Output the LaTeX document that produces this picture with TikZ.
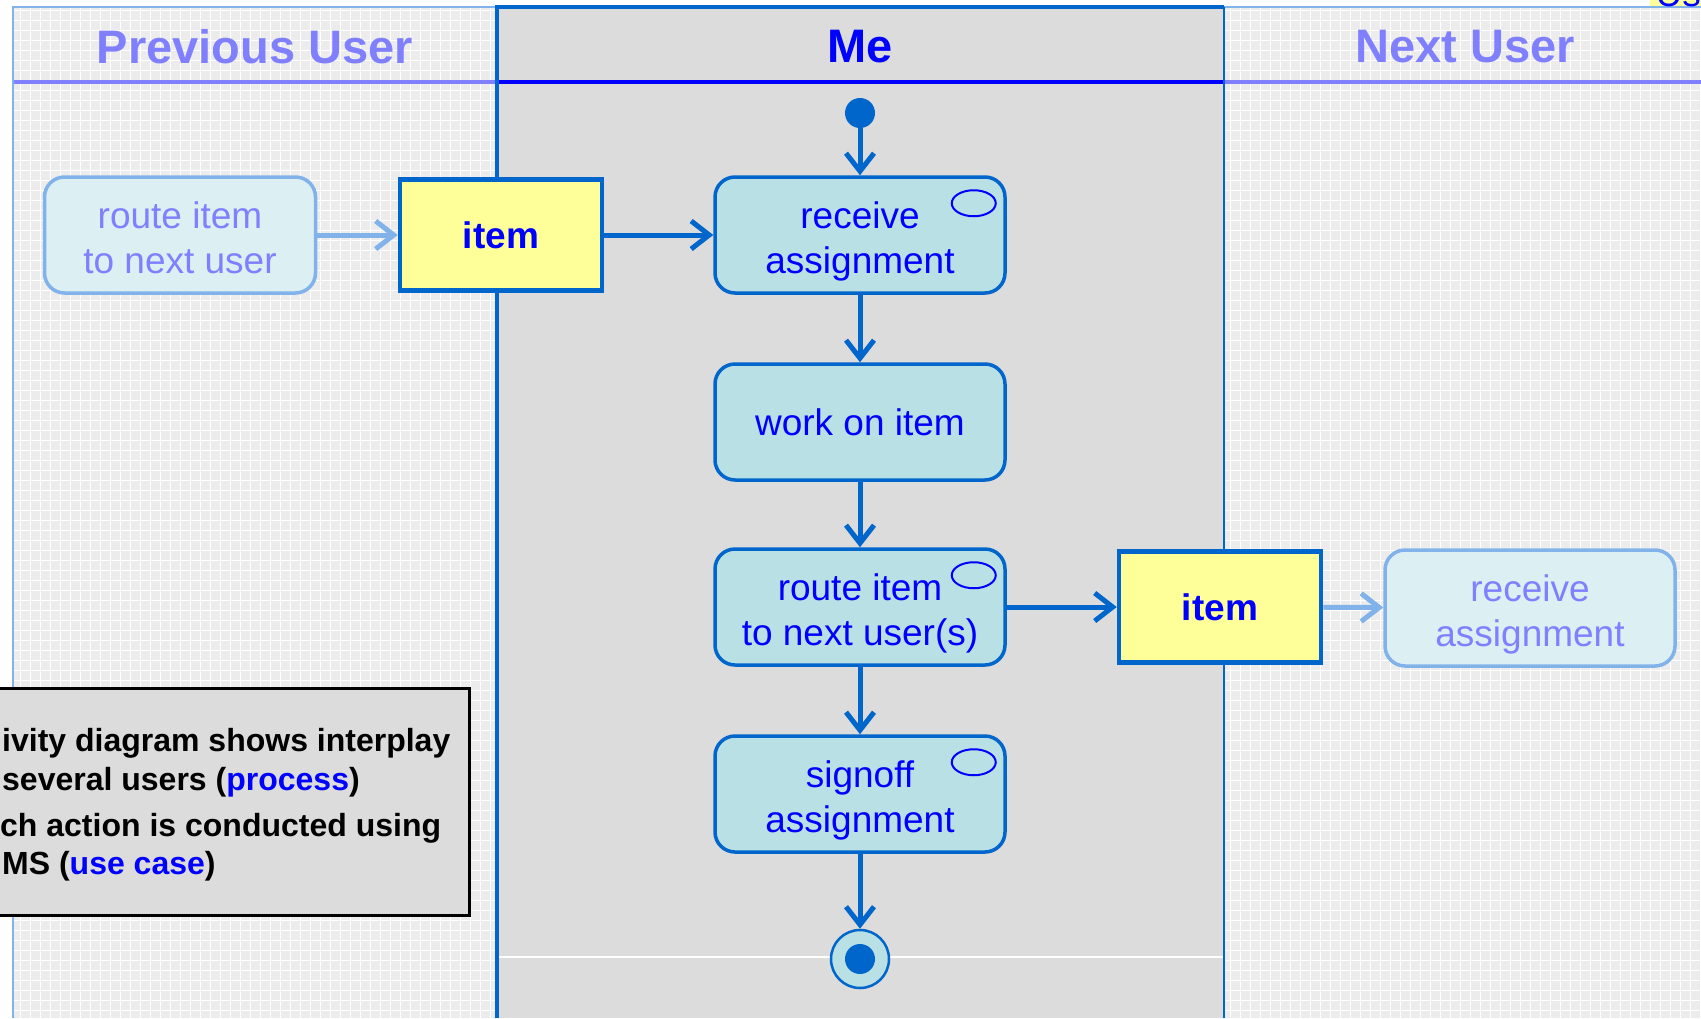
\documentclass[tikz,border=0pt]{standalone}
\usepackage{fontspec}
\setmainfont{Liberation Sans}
\usetikzlibrary{arrows.meta}

\definecolor{laneblue}{RGB}{0,102,204}
\definecolor{fadeblue}{RGB}{128,128,255}
\definecolor{fadeline}{RGB}{130,178,234}
\definecolor{actfill}{RGB}{185,224,229}
\definecolor{fadefill}{RGB}{220,239,242}
\definecolor{objfill}{RGB}{255,255,153}
\definecolor{megray}{RGB}{220,220,220}
\definecolor{outgray}{RGB}{236,236,236}

\tikzset{
	action/.style={draw=laneblue, fill=actfill, line width=3.5pt, rounded corners=20pt,
		minimum width=290pt, minimum height=116pt, align=center, text=blue,
		font=\fontsize{37}{45}\selectfont},
	twoline/.style={text height=79pt, text depth=3pt},
	ghost/.style={action, draw=fadeline, fill=fadefill, text=fadeblue},
	object/.style={draw=laneblue, fill=objfill, line width=4.5pt, minimum width=202pt,
		minimum height=111pt, text=blue, font=\fontsize{37}{45}\selectfont\bfseries},
	flow/.style={draw=laneblue, line width=5pt, -{Straight Barb[length=18pt,width=28pt]}},
	ghostflow/.style={flow, draw=fadeline},
	lanetitle/.style={font=\fontsize{47}{50}\selectfont\bfseries, text=fadeblue},
	note/.style={anchor=base west, inner sep=0pt, font=\fontsize{32}{36}\selectfont\bfseries},
}

\begin{document}
\begin{tikzpicture}[x=1pt,y=-1pt]
	
	\useasboundingbox (0,0) rectangle (1701,1018);
	\clip (0,0) rectangle (1701,1018);
	\fill[white] (0,0) rectangle (1701,1018);
	
	% Swimlanes
	\fill[outgray] (13,7) rectangle (1701,1018);
	\draw[white, line width=0.6pt, step=10pt] (13,7) grid (1701,1018);
	\fill[megray] (497,7) rectangle (1224,1018);
	\draw[white, line width=1.2pt] (497,957) -- (1224,957);
	
	\draw[fadeblue, line width=4pt] (13,82) -- (497,82);
	\draw[fadeblue, line width=4pt] (1224,82) -- (1701,82);
	\draw[blue, line width=4pt] (497,82) -- (1224,82);
	
	\draw[fadeline, line width=2.5pt] (13,1018) -- (13,7) -- (497,7);
	\draw[fadeline, line width=2.5pt] (1224,7) -- (1701,7);
	\draw[laneblue, line width=4pt] (497,1018) -- (497,7) -- (1224,7);
	\draw[laneblue, line width=2pt] (1224,7) -- (1224,1018);
	
	% cut-off callout at the top
	\begin{scope}
		\clip (1640,0) rectangle (1701,6);
		\fill[objfill] (1650,-40) rectangle (1701,6);
		\node[anchor=base west, text=blue, font=\fontsize{37}{45}\selectfont] (usecase) at (1652,6) {Use};
	\end{scope}
	
	\node[lanetitle] (prevtitle) at (255,47) {Previous User};
	\node[lanetitle, text=blue] (metitle) at (860,47) {Me};
	\node[lanetitle] (nexttitle) at (1465,47) {Next User};
	
	% Activities
	\node[circle, fill=laneblue, minimum size=30pt, inner sep=0pt] (start) at (860,113) {};
	\node[action, twoline] (receive) at (860,235) {receive\\assignment};
	\node[action] (work) at (860,422) {work on item};
	\node[action, twoline] (route) at (860,607) {route item\\to next user(s)};
	\node[action, twoline] (signoff) at (860,794) {signoff\\assignment};
	\node[circle, draw=laneblue, fill=actfill, line width=2.5pt, minimum size=58pt, inner sep=0pt] (final) at (860,959) {};
	\node[circle, fill=laneblue, minimum size=30pt, inner sep=0pt] (finaldot) at (final) {};
	
	\foreach \n in {receive, route, signoff}
		\draw[blue, line width=2pt] (\n.north east) ++(-33,28) ellipse [x radius=22, y radius=13];
	
	% Objects and neighbours
	\node[object] (itemin) at (501,235) {item};
	\node[object] (itemout) at (1220,607) {item};
	\node[ghost, twoline, minimum width=271pt] (prevroute) at (180,235) {route item\\to next user};
	\node[ghost, twoline] (nextrecv) at (1530,608) {receive\\assignment};
	
	% Flows
	\draw[flow] (start) -- (receive);
	\draw[flow] (receive) -- (work);
	\draw[flow] (work) -- (route);
	\draw[flow] (route) -- (signoff);
	\draw[flow] (signoff) -- (final);
	\draw[flow] (itemin) -- (receive);
	\draw[flow] (route) -- (itemout);
	\draw[ghostflow] (prevroute) -- (itemin);
	\draw[ghostflow] (itemout) -- (nextrecv);
	
	% Note
	\draw[black, fill=megray, line width=3pt] (-20,688) rectangle (469,915);
	\node[note] (note1) at (2,751) {ivity diagram shows interplay};
	\node[note] (note2) at (2,790) {several users (\textcolor{blue}{process})};
	\node[note] (note3) at (0,836) {ch action is conducted using};
	\node[note] (note4) at (2,874) {MS (\textcolor{blue}{use case})};
	
\end{tikzpicture}
\end{document}
